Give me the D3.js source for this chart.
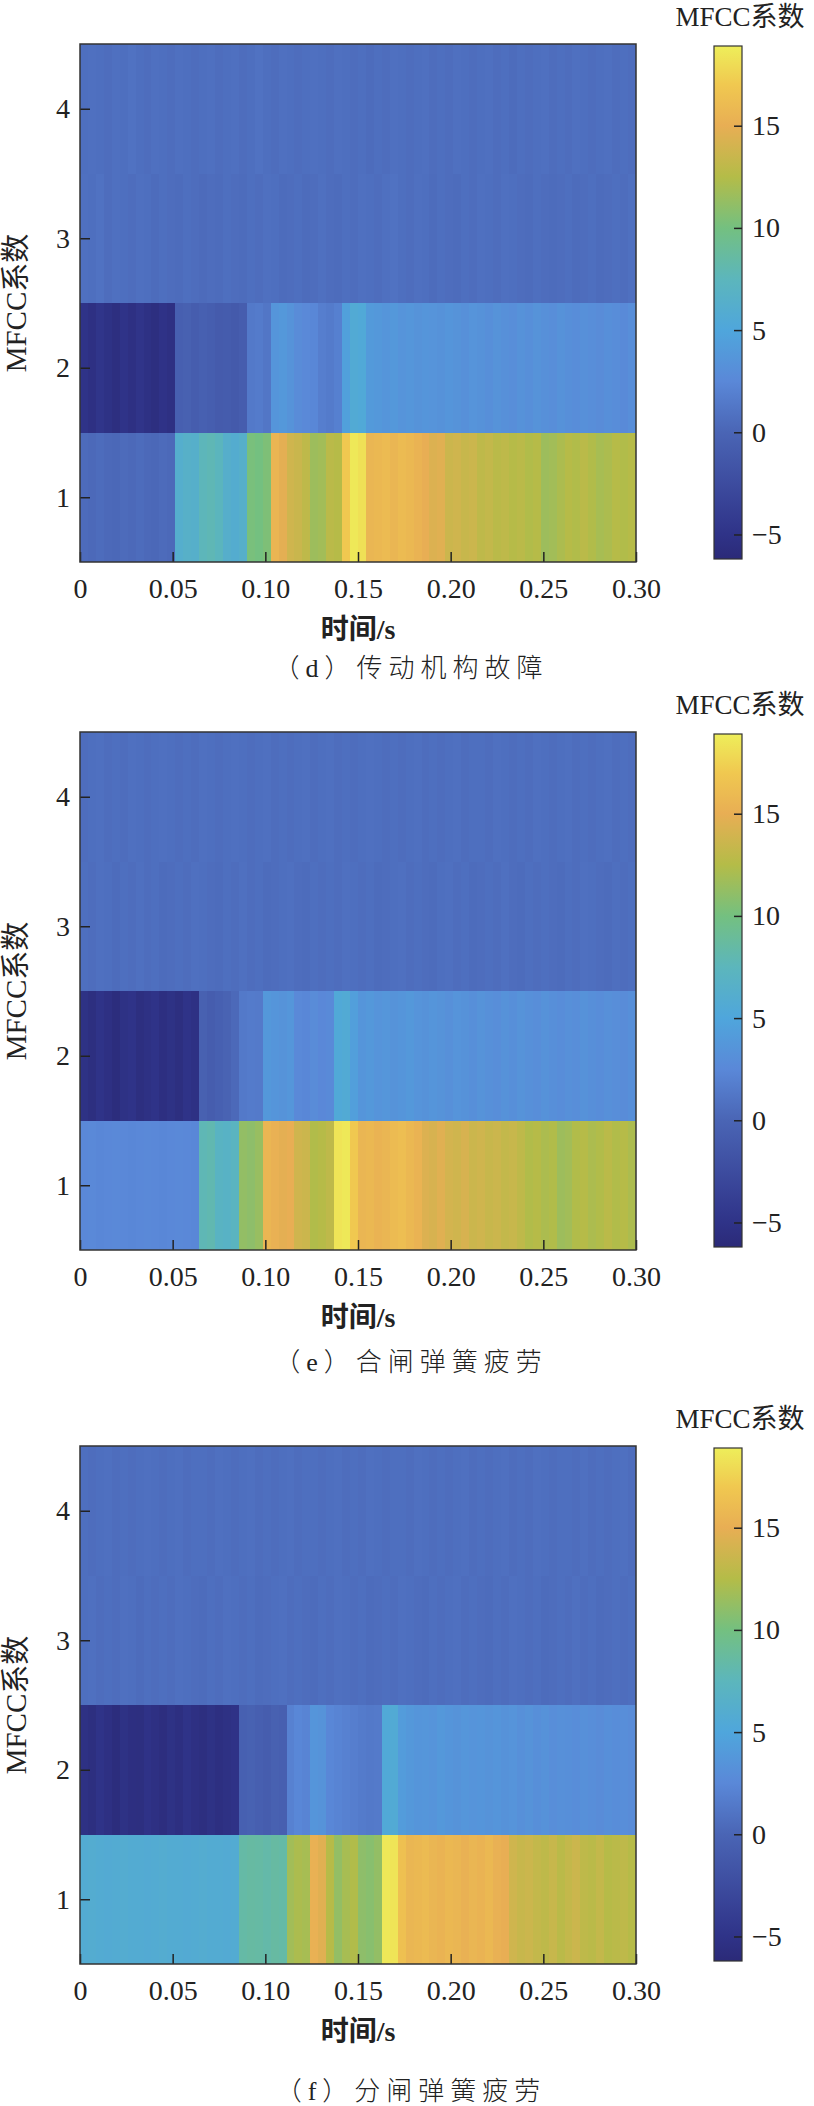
<!DOCTYPE html>
<html>
<head>
<meta charset="utf-8">
<script src="https://cdn.jsdelivr.net/npm/d3@7"></script>
<style>
  body { margin: 0; background: #fff; }
</style>
</head>
<body>
<div id="chart"></div>
<script>
// time frames (70 frames over 0.3 s), MFCC index 1..4
var nFrames = 70;
var timeMax = 0.30;
var timeTicks = [0, 0.05, 0.10, 0.15, 0.20, 0.25, 0.30];
var mfccIndex = [1, 2, 3, 4];
var cbarTicks = [-5, 0, 5, 10, 15];
var cbarRange = [-6.2, 18.9];
var panelTitles = ["（d）传动机构故障", "（e）合闸弹簧疲劳", "（f）分闸弹簧疲劳"];

// (d) 传动机构故障
var panelD_mfcc1 = [0.4, 0.3, 0.5, 0.3, 0.2, 0.4, 0.3, 0.5, 0.3, 0.2,
  0.4, 0.3, 6.2, 6.6, 6.4, 7.6, 7.8, 7.4, 6.3, 6.0,
  6.4, 10.2, 10.0, 10.4, 15.5, 14.8, 13.8, 13.5, 13.0, 11.6,
  11.8, 12.8, 12.6, 17.0, 18.6, 18.2, 15.6, 15.8, 16.0, 15.6,
  16.0, 15.8, 15.4, 15.0, 14.4, 14.6, 13.6, 13.8, 13.4, 13.6,
  13.0, 13.2, 12.8, 13.0, 12.6, 12.8, 12.4, 12.6, 11.6, 11.8,
  12.2, 12.6, 12.4, 12.8, 12.4, 12.0, 12.2, 12.6, 12.4, 12.6];
var panelD_mfcc2 = [-5.0, -5.4, -4.8, -5.2, -5.6, -5.0, -5.4, -4.9, -5.3, -5.6,
  -5.1, -5.4, -0.6, -0.4, -0.8, -0.5, -0.7, -1.0, -0.9, -1.1,
  -0.8, 1.4, 1.6, 1.2, 3.6, 3.8, 3.4, 2.8, 2.6, 2.4,
  1.8, 1.6, 1.9, 4.5, 5.6, 5.4, 4.0, 3.8, 3.6, 3.8,
  3.5, 3.7, 3.4, 3.6, 3.5, 3.3, 3.6, 3.4, 3.2, 3.5,
  3.3, 3.1, 3.4, 3.2, 3.0, 3.3, 3.1, 3.4, 3.2, 3.0,
  3.3, 3.1, 2.9, 3.2, 3.0, 2.8, 3.1, 2.9, 2.7, 3.0];
var panelD_mfcc3 = [0.8, 0.7, 0.9, 0.6, 0.8, 0.7, 0.6, 0.8, 0.7, 0.5,
  0.7, 0.6, 0.5, 0.7, 0.6, 0.4, 0.6, 0.5, 0.7, 0.6,
  0.5, 0.7, 0.6, 0.8, 0.7, 0.5, 0.6, 0.7, 0.5, 0.6,
  0.8, 0.6, 0.5, 0.7, 0.6, 0.8, 0.7, 0.6, 0.8, 0.9,
  0.7, 0.6, 0.8, 0.7, 0.5, 0.7, 0.6, 0.5, 0.7, 0.6,
  0.8, 0.7, 0.6, 0.8, 0.7, 0.6, 0.5, 0.7, 0.6, 0.5,
  0.6, 0.7, 0.5, 0.6, 0.7, 0.5, 0.6, 0.7, 0.6, 0.8];
var panelD_mfcc4 = [0.7, 0.8, 0.7, 0.6, 0.8, 0.7, 0.9, 0.7, 0.6, 0.8,
  0.7, 0.6, 0.8, 0.7, 0.6, 0.7, 0.8, 0.6, 0.7, 0.8,
  0.6, 0.7, 0.9, 0.7, 0.6, 0.8, 0.7, 0.6, 0.7, 0.8,
  0.7, 0.6, 0.8, 0.7, 0.6, 0.7, 0.5, 0.7, 0.6, 0.8,
  0.7, 0.6, 0.7, 0.8, 0.6, 0.7, 0.6, 0.8, 0.7, 0.6,
  0.7, 0.8, 0.6, 0.7, 0.5, 0.7, 0.6, 0.7, 0.8, 0.6,
  0.7, 0.6, 0.8, 0.7, 0.6, 0.7, 0.8, 0.6, 0.7, 0.6];

// (e) 合闸弹簧疲劳
var panelE_mfcc1 = [2.5, 2.6, 2.4, 2.5, 2.6, 2.5, 2.4, 2.5, 2.6, 2.5,
  2.4, 2.5, 2.6, 2.5, 2.4, 7.8, 8.0, 7.0, 6.8, 7.2,
  11.2, 11.0, 11.4, 15.6, 15.2, 14.8, 15.0, 13.8, 13.6, 12.4,
  12.6, 13.0, 18.4, 18.6, 17.0, 15.6, 15.8, 15.4, 15.6, 16.0,
  16.2, 15.8, 15.4, 14.4, 14.2, 14.6, 14.0, 13.8, 14.2, 13.6,
  13.8, 13.4, 13.6, 13.2, 13.4, 13.0, 12.4, 12.6, 12.2, 12.4,
  11.6, 11.8, 12.4, 12.6, 12.2, 12.4, 12.8, 12.4, 12.6, 12.2];
var panelE_mfcc2 = [-5.2, -5.6, -5.0, -5.4, -5.8, -5.2, -5.0, -5.6, -5.3, -5.0,
  -5.5, -5.2, -5.6, -5.0, -5.3, -0.4, -0.8, -0.5, -0.2, 0.3,
  1.4, 1.6, 1.5, 3.8, 3.6, 3.4, 3.7, 2.6, 2.4, 2.8,
  2.5, 2.7, 5.4, 5.6, 4.4, 3.6, 3.8, 3.5, 3.7, 3.4,
  3.6, 3.8, 3.5, 3.3, 3.6, 3.4, 3.2, 3.5, 3.3, 3.1,
  3.4, 3.2, 3.0, 3.3, 3.1, 3.4, 3.2, 3.0, 3.3, 3.1,
  2.9, 3.2, 3.0, 3.3, 3.1, 2.9, 3.2, 3.0, 2.8, 3.1];
var panelE_mfcc3 = [0.7, 0.6, 0.8, 0.7, 0.5, 0.7, 0.6, 0.8, 0.6, 0.7,
  0.5, 0.6, 0.7, 0.6, 0.8, 0.7, 0.6, 0.5, 0.7, 0.6,
  0.8, 0.6, 0.7, 0.5, 0.6, 0.7, 0.8, 0.6, 0.5, 0.7,
  0.6, 0.7, 0.6, 0.8, 0.7, 0.6, 0.7, 0.5, 0.6, 0.7,
  0.8, 0.6, 0.7, 0.6, 0.5, 0.7, 0.8, 0.6, 0.7, 0.5,
  0.6, 0.7, 0.6, 0.8, 0.6, 0.5, 0.7, 0.6, 0.7, 0.6,
  0.5, 0.7, 0.6, 0.8, 0.7, 0.6, 0.5, 0.7, 0.6, 0.7];
var panelE_mfcc4 = [0.6, 0.7, 0.8, 0.6, 0.7, 0.6, 0.8, 0.7, 0.6, 0.7,
  0.8, 0.7, 0.6, 0.7, 0.6, 0.8, 0.7, 0.6, 0.7, 0.8,
  0.7, 0.6, 0.7, 0.8, 0.6, 0.7, 0.6, 0.7, 0.8, 0.6,
  0.7, 0.8, 0.6, 0.7, 0.6, 0.7, 0.8, 0.7, 0.6, 0.7,
  0.6, 0.7, 0.8, 0.6, 0.7, 0.6, 0.7, 0.8, 0.6, 0.7,
  0.7, 0.6, 0.8, 0.7, 0.6, 0.7, 0.6, 0.8, 0.7, 0.6,
  0.7, 0.8, 0.6, 0.7, 0.6, 0.7, 0.8, 0.6, 0.7, 0.6];

// (f) 分闸弹簧疲劳
var panelF_mfcc1 = [5.8, 5.9, 5.8, 5.7, 5.8, 5.9, 5.8, 5.8, 5.7, 5.8,
  5.9, 5.8, 5.8, 5.7, 5.8, 5.9, 5.8, 5.8, 5.7, 5.8,
  8.4, 8.6, 8.5, 8.3, 8.6, 8.4, 11.8, 12.2, 12.0, 15.2,
  14.6, 12.6, 11.2, 12.0, 12.4, 11.0, 10.8, 11.2, 18.6, 18.4,
  16.4, 15.6, 15.8, 16.0, 15.6, 15.4, 15.8, 15.6, 15.2, 15.6,
  15.4, 15.8, 15.2, 15.0, 13.8, 13.4, 13.6, 13.2, 13.0, 13.4,
  12.8, 13.2, 13.6, 13.0, 12.8, 13.2, 12.6, 12.8, 13.0, 12.6];
var panelF_mfcc2 = [-5.3, -5.6, -5.0, -5.4, -5.8, -5.2, -5.5, -5.6, -5.1, -5.4,
  -5.7, -5.2, -5.5, -5.0, -5.4, -5.6, -5.2, -5.5, -5.3, -5.1,
  -0.5, -0.3, -0.6, -0.8, -0.4, -0.6, 2.0, 2.4, 2.2, 3.6,
  3.4, 2.4, 2.2, 2.0, 1.8, 1.6, 1.4, 1.5, 5.4, 5.6,
  4.2, 3.8, 3.6, 3.7, 3.5, 3.8, 3.6, 3.4, 3.7, 3.5,
  3.6, 3.4, 3.6, 3.3, 3.5, 3.2, 3.4, 3.1, 3.3, 3.0,
  3.2, 3.1, 2.9, 3.2, 3.0, 2.8, 3.1, 2.9, 3.0, 2.8];
var panelF_mfcc3 = [0.7, 0.8, 0.6, 0.7, 0.6, 0.8, 0.7, 0.5, 0.7, 0.6,
  0.7, 0.6, 0.8, 0.7, 0.6, 0.5, 0.7, 0.6, 0.8, 0.7,
  0.6, 0.7, 0.5, 0.6, 0.7, 0.8, 0.6, 0.7, 0.6, 0.5,
  0.7, 0.6, 0.8, 0.7, 0.6, 0.7, 0.5, 0.6, 0.7, 0.6,
  0.8, 0.7, 0.6, 0.5, 0.7, 0.6, 0.7, 0.8, 0.6, 0.7,
  0.6, 0.5, 0.7, 0.6, 0.8, 0.7, 0.6, 0.7, 0.5, 0.6,
  0.7, 0.6, 0.8, 0.6, 0.7, 0.5, 0.6, 0.7, 0.6, 0.7];
var panelF_mfcc4 = [0.7, 0.6, 0.7, 0.8, 0.6, 0.7, 0.6, 0.7, 0.8, 0.7,
  0.6, 0.7, 0.8, 0.6, 0.7, 0.7, 0.6, 0.8, 0.7, 0.6,
  0.7, 0.8, 0.6, 0.7, 0.6, 0.7, 0.8, 0.6, 0.7, 0.7,
  0.6, 0.7, 0.8, 0.6, 0.7, 0.6, 0.8, 0.7, 0.6, 0.7,
  0.7, 0.6, 0.8, 0.7, 0.6, 0.7, 0.6, 0.7, 0.8, 0.6,
  0.7, 0.6, 0.7, 0.8, 0.6, 0.7, 0.6, 0.8, 0.7, 0.6,
  0.7, 0.7, 0.6, 0.8, 0.6, 0.7, 0.6, 0.7, 0.8, 0.6];

var panelRows = [
  [panelD_mfcc1, panelD_mfcc2, panelD_mfcc3, panelD_mfcc4],
  [panelE_mfcc1, panelE_mfcc2, panelE_mfcc3, panelE_mfcc4],
  [panelF_mfcc1, panelF_mfcc2, panelF_mfcc3, panelF_mfcc4]
];

// layout
var W = 814, H = 2106;
var plotLeft = 80, plotW = 556, plotH = 518;
var panelTops = [44, 732, 1446];
var titleOffsets = [106, 112, 127];
var cbarX = 714, cbarW = 28;
var fontSerif = "'Liberation Serif', 'Noto Sans CJK SC', serif";
var fontNum = "Liberation Serif";

// washed-out parula, as it looks in the figure
var cmapStops = [-6.2, -5, -2.5, 0, 2.5, 5, 7.5, 10, 12.5, 15, 17, 18.9];
var cmapColors = ["#2b2a78", "#2f3388", "#3d4c9f", "#4a65b5", "#5a88d8", "#4fa6dc",
  "#5cb6bc", "#74c080", "#b4bc48", "#e8ae54", "#f0c850", "#eeee5a"];
var color = d3.scaleLinear()
  .domain(cmapStops)
  .range(cmapColors)
  .interpolate(d3.interpolateRgb)
  .clamp(true);

var svg = d3.select("#chart")
  .append("svg")
  .attr("width", W)
  .attr("height", H)
  .style("display", "block");

svg.append("rect").attr("width", W).attr("height", H).attr("fill", "#fff");

var x = d3.scaleLinear().domain([0, timeMax]).range([0, plotW]);
var y = d3.scaleLinear().domain([0.5, 4.5]).range([plotH, 0]);
var frame = timeMax / nFrames;

// axis text/tick styling (d3 puts its own font attrs on the axis group)
function styleAxis(s) {
  s.select(".domain").remove();
  s.attr("font-family", fontNum).attr("font-size", 28);
  s.selectAll(".tick text")
    .attr("font-family", fontNum)
    .attr("font-size", 28)
    .attr("fill", "#222");
  s.selectAll(".tick line")
    .attr("stroke", "#222")
    .attr("stroke-width", 1.5);
}

// gradient for the colorbar
var defs = svg.append("defs");
var grad = defs.append("linearGradient")
  .attr("id", "cbarGrad")
  .attr("x1", 0).attr("y1", 1).attr("x2", 0).attr("y2", 0);
grad.selectAll("stop")
  .data(cmapStops)
  .enter().append("stop")
  .attr("offset", function(d){ return (d - cbarRange[0]) / (cbarRange[1] - cbarRange[0]); })
  .attr("stop-color", function(d){ return color(d); });

panelRows.forEach(function(rows, p) {
  var top = panelTops[p];
  var g = svg.append("g")
    .attr("transform", "translate(" + plotLeft + "," + top + ")");

  var cells = [];
  rows.forEach(function(vals, r) {
    vals.forEach(function(v, i) {
      cells.push({k: mfccIndex[r], t0: i * frame, t1: (i + 1) * frame, v: v});
    });
  });

  g.selectAll(".cell")
    .data(cells)
    .enter().append("rect")
    .attr("class", "cell")
    .attr("x", function(d){ return x(d.t0); })
    .attr("width", function(d){ return Math.min(x(d.t1) + 0.6, plotW) - x(d.t0); })
    .attr("y", function(d){ return y(d.k + 0.5); })
    .attr("height", function(d){ return y(d.k - 0.5) - y(d.k + 0.5) + 0.4; })
    .attr("fill", function(d){ return color(d.v); })
    .attr("shape-rendering", "crispEdges");

  var xAxis = d3.axisBottom(x)
    .tickValues(timeTicks)
    .tickSize(-10)
    .tickPadding(16)
    .tickFormat(function(d){ return d === 0 ? "0" : d3.format(".2f")(d); });
  var yAxis = d3.axisLeft(y)
    .tickValues(mfccIndex)
    .tickSize(-10)
    .tickPadding(10)
    .tickFormat(d3.format("d"));

  g.append("g")
    .attr("transform", "translate(0," + plotH + ")")
    .call(xAxis)
    .call(styleAxis);
  g.append("g")
    .call(yAxis)
    .call(styleAxis);

  g.append("rect")
    .attr("width", plotW)
    .attr("height", plotH)
    .attr("fill", "none")
    .attr("stroke", "#333")
    .attr("stroke-width", 1.5);

  // axis labels
  g.append("text")
    .attr("x", plotW / 2)
    .attr("y", plotH + 67)
    .attr("dy", "0.35em")
    .attr("text-anchor", "middle")
    .style("font-family", fontSerif)
    .style("font-size", "28px")
    .style("font-weight", "bold")
    .style("fill", "#222")
    .text("时间/s");

  svg.append("text")
    .attr("transform", "translate(16," + (top + plotH / 2) + ") rotate(-90)")
    .attr("dy", "0.35em")
    .attr("text-anchor", "middle")
    .style("font-family", fontSerif)
    .style("font-size", "29px")
    .style("fill", "#222")
    .text("MFCC系数");

  // panel caption
  svg.append("text")
    .attr("x", 411)
    .attr("y", top + plotH + titleOffsets[p])
    .attr("dy", "0.35em")
    .attr("text-anchor", "middle")
    .style("font-family", fontSerif)
    .style("font-size", "26px")
    .style("font-weight", "300")
    .style("letter-spacing", "6px")
    .style("fill", "#222")
    .text(panelTitles[p]);

  // colorbar
  var cbTop = top + 2, cbH = plotH - 5;
  var cy = d3.scaleLinear().domain(cbarRange).range([cbH, 0]);
  var cg = svg.append("g")
    .attr("transform", "translate(" + cbarX + "," + cbTop + ")");
  cg.append("rect")
    .attr("width", cbarW)
    .attr("height", cbH)
    .attr("fill", "url(#cbarGrad)")
    .attr("stroke", "#333")
    .attr("stroke-width", 1.2);
  cg.append("g")
    .attr("transform", "translate(" + cbarW + ",0)")
    .call(d3.axisRight(cy).tickValues(cbarTicks).tickSize(-8).tickPadding(10))
    .call(styleAxis);

  svg.append("text")
    .attr("x", 740)
    .attr("y", top - 27)
    .attr("dy", "0.35em")
    .attr("text-anchor", "middle")
    .style("font-family", fontSerif)
    .style("font-size", "27px")
    .style("fill", "#222")
    .text("MFCC系数");
});
</script>
</body>
</html>
